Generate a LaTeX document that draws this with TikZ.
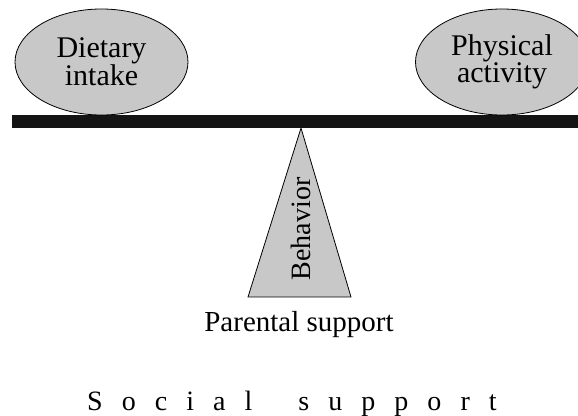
\documentclass[tikz,border=0pt]{standalone}
\usepackage{fontspec}
\setmainfont{Liberation Serif}
\usetikzlibrary{shapes.geometric}
\definecolor{shapegray}{RGB}{200,200,200}
\definecolor{barblack}{RGB}{20,20,20}
\begin{document}
\begin{tikzpicture}[x=1pt,y=1pt,
  txt/.style={font=\fontsize{29}{26}\selectfont, inner sep=0pt},
  weight/.style={ellipse, draw=black, line width=0.8pt, fill=shapegray,
    minimum width=173pt, minimum height=106pt, align=center,
    font=\fontsize{30}{26}\selectfont, inner sep=0pt}]
\useasboundingbox (0,0) rectangle (578,415);
\begin{scope}
\clip (0,0) rectangle (578,415);
% bar
\fill[barblack] (12,287) rectangle (578,300);
% weights
\node[weight] (diet) at (101.5,353) {Dietary\\intake};
\node[weight] (phys) at (502,353) {Physical\\activity};
\end{scope}
% fulcrum
\coordinate (apex) at (301,287);
\coordinate (bl) at (248,118);
\coordinate (br) at (351,118);
\draw[line width=0.8pt, fill=shapegray, line join=miter] (apex) -- (br) -- (bl) -- cycle;
\node[txt, rotate=90, font=\fontsize{28}{26}\selectfont] (beh) at (301,186) {Behavior};
% labels
\node[txt, anchor=base] (par) at (299,83) {Parental support};
\node[txt, anchor=base west, font=\fontsize{28}{26}\selectfont\addfontfeature{LetterSpace=68}] (soc) at (87,5) {Social\hspace{20pt} support};
\end{tikzpicture}
\end{document}
